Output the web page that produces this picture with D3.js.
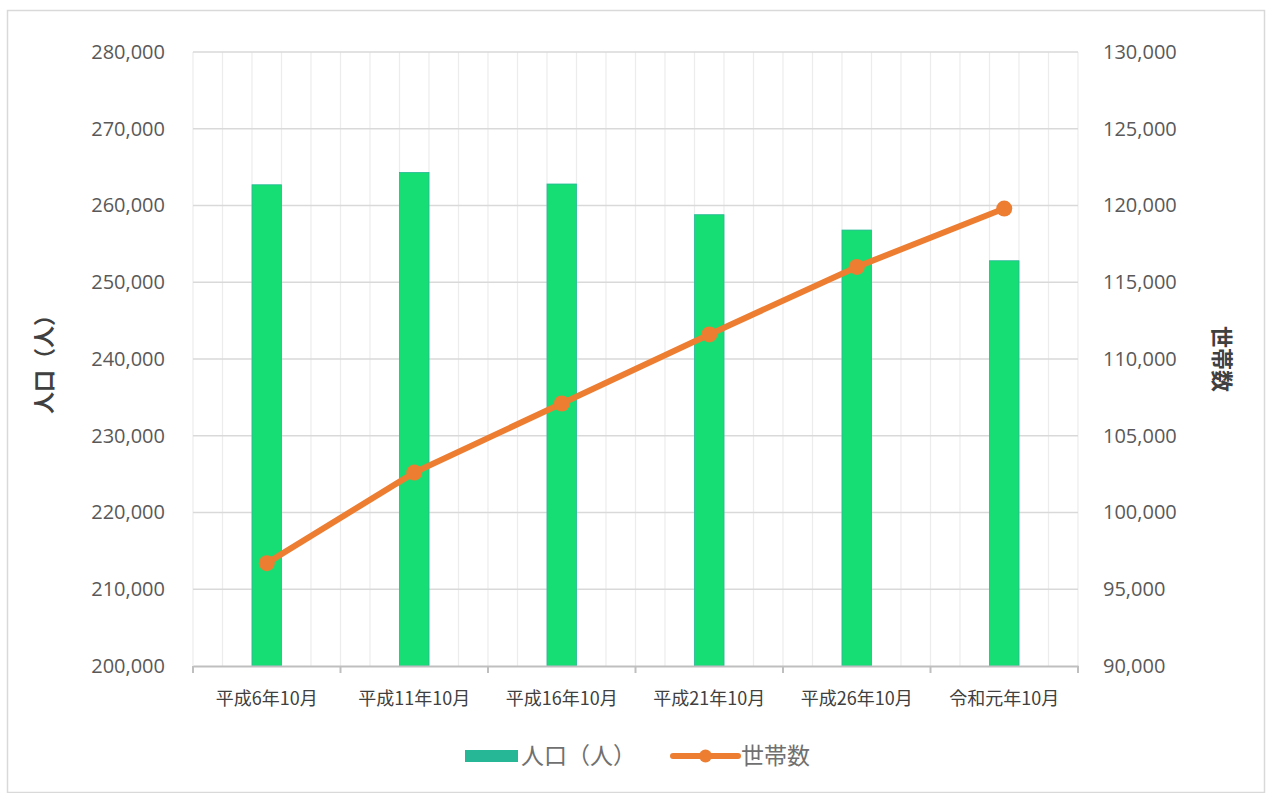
<!DOCTYPE html>
<html>
<head>
<meta charset="utf-8">
<script src="https://cdn.jsdelivr.net/npm/d3@7"></script>
<style>
  html, body { margin: 0; padding: 0; background: #fff; }
  svg { display: block; }
</style>
</head>
<body>
<div id="chart"></div>
<script>
// 年次ごとの人口と世帯数
const categories = ['平成6年10月', '平成11年10月', '平成16年10月', '平成21年10月', '平成26年10月', '令和元年10月'];
const population = [262700, 264300, 262800, 258800, 256800, 252800];
const households = [96700, 102600, 107100, 111600, 116000, 119800];
const leftTicks = [200000, 210000, 220000, 230000, 240000, 250000, 260000, 270000, 280000];
const rightTicks = [90000, 95000, 100000, 105000, 110000, 115000, 120000, 125000, 130000];

const W = 1266, H = 793;
const plot = { left: 193, right: 1078, top: 52, bottom: 666 };
const GREEN = '#16de75';
const GREEN_EDGE = '#25b796';
const ORANGE = '#ed7d31';
const NUM_FONT = '"Open Sans", "Noto Sans", sans-serif';
const JP_FONT = '"Noto Sans CJK JP", "Noto Sans", sans-serif';

const svg = d3.select('#chart').append('svg')
  .attr('width', W).attr('height', H);

// 外枠
svg.append('rect')
  .attr('x', 7.5).attr('y', 10.5)
  .attr('width', 1257).attr('height', 782)
  .attr('fill', '#fff').attr('stroke', '#d9d9d9').attr('stroke-width', 1.5);

const x = d3.scaleBand().domain(categories).range([plot.left, plot.right]).padding(0);
const yL = d3.scaleLinear().domain([200000, 280000]).range([plot.bottom, plot.top]);
const yR = d3.scaleLinear().domain([90000, 130000]).range([plot.bottom, plot.top]);
const fmt = d3.format(',');

// 縦の補助線（各区間を5分割）
const bw = x.bandwidth();
const minor = [];
categories.forEach((c) => {
  for (let k = 0; k < 5; k++) minor.push(x(c) + k * bw / 5);
});
minor.push(plot.right);
svg.append('g').selectAll('line').data(minor).join('line')
  .attr('x1', (d) => d).attr('x2', (d) => d)
  .attr('y1', plot.top).attr('y2', plot.bottom)
  .attr('stroke', '#ececec').attr('stroke-width', 1.2);

// 横の目盛線
svg.append('g').selectAll('line').data(leftTicks.slice(1)).join('line')
  .attr('x1', plot.left).attr('x2', plot.right)
  .attr('y1', (d) => yL(d)).attr('y2', (d) => yL(d))
  .attr('stroke', '#d9d9d9').attr('stroke-width', 1.5);

// 左軸
const axL = svg.append('g')
  .attr('transform', `translate(${plot.left},0)`)
  .call(d3.axisLeft(yL).tickValues(leftTicks).tickFormat(fmt).tickSize(0).tickPadding(28));
axL.select('.domain').remove();
axL.selectAll('text')
  .attr('font-family', NUM_FONT).attr('font-size', 20).attr('fill', '#595959');

// 右軸
const axR = svg.append('g')
  .attr('transform', `translate(${plot.right},0)`)
  .call(d3.axisRight(yR).tickValues(rightTicks).tickFormat(fmt).tickSize(0).tickPadding(25));
axR.select('.domain').remove();
axR.selectAll('text')
  .attr('font-family', NUM_FONT).attr('font-size', 20).attr('fill', '#595959');

// 棒（人口）
svg.append('g').selectAll('rect').data(population).join('rect')
  .attr('x', (d, i) => x(categories[i]) + bw * 2 / 5)
  .attr('width', bw / 5)
  .attr('y', (d) => yL(d))
  .attr('height', (d) => yL(200000) - yL(d))
  .attr('fill', GREEN).attr('stroke', GREEN_EDGE).attr('stroke-width', 0.8);

// 下軸
const axB = svg.append('g')
  .attr('transform', `translate(0,${plot.bottom})`)
  .call(d3.axisBottom(x).tickSize(0).tickPadding(26));
axB.select('.domain').attr('stroke', '#bfbfbf').attr('stroke-width', 2);
axB.selectAll('text')
  .attr('font-family', JP_FONT).attr('font-size', 18).attr('fill', '#404040');
const bounds = categories.map((c) => x(c)).concat([plot.right]);
axB.selectAll('line.bound').data(bounds).join('line')
  .attr('class', 'bound')
  .attr('x1', (d) => d).attr('x2', (d) => d)
  .attr('y1', 0).attr('y2', 7)
  .attr('stroke', '#bfbfbf').attr('stroke-width', 2);

// 折れ線（世帯数）
const cx = (i) => x(categories[i]) + bw / 2;
const line = d3.line().x((d, i) => cx(i)).y((d) => yR(d));
svg.append('path').datum(households)
  .attr('d', line)
  .attr('fill', 'none').attr('stroke', ORANGE).attr('stroke-width', 6)
  .attr('stroke-linejoin', 'round').attr('stroke-linecap', 'round');
svg.append('g').selectAll('circle').data(households).join('circle')
  .attr('cx', (d, i) => cx(i)).attr('cy', (d) => yR(d))
  .attr('r', 8).attr('fill', ORANGE);

// 軸タイトル
svg.append('text')
  .attr('transform', `translate(52,${(plot.top + plot.bottom) / 2}) rotate(-90)`)
  .attr('text-anchor', 'middle')
  .attr('font-family', JP_FONT).attr('font-size', 22).attr('font-weight', 'bold')
  .attr('fill', '#404040').text('人口（人）');
svg.append('text')
  .attr('transform', `translate(1214,${(plot.top + plot.bottom) / 2}) rotate(90)`)
  .attr('text-anchor', 'middle')
  .attr('font-family', JP_FONT).attr('font-size', 22).attr('font-weight', 'bold')
  .attr('fill', '#404040').text('世帯数');

// 凡例
const lg = svg.append('g').attr('transform', 'translate(0,756)');
lg.append('rect').attr('x', 465).attr('y', -6).attr('width', 53).attr('height', 12)
  .attr('fill', GREEN_EDGE);
lg.append('text').attr('x', 521).attr('y', 0).attr('dy', '0.36em')
  .attr('font-family', JP_FONT).attr('font-size', 23).attr('fill', '#707070')
  .text('人口（人）');
lg.append('line').attr('x1', 673).attr('x2', 738).attr('y1', 0).attr('y2', 0)
  .attr('stroke', ORANGE).attr('stroke-width', 6).attr('stroke-linecap', 'round');
lg.append('circle').attr('cx', 705.5).attr('cy', 0).attr('r', 6.5).attr('fill', ORANGE);
lg.append('text').attr('x', 741).attr('y', 0).attr('dy', '0.36em')
  .attr('font-family', JP_FONT).attr('font-size', 23).attr('fill', '#707070')
  .text('世帯数');
</script>
</body>
</html>
